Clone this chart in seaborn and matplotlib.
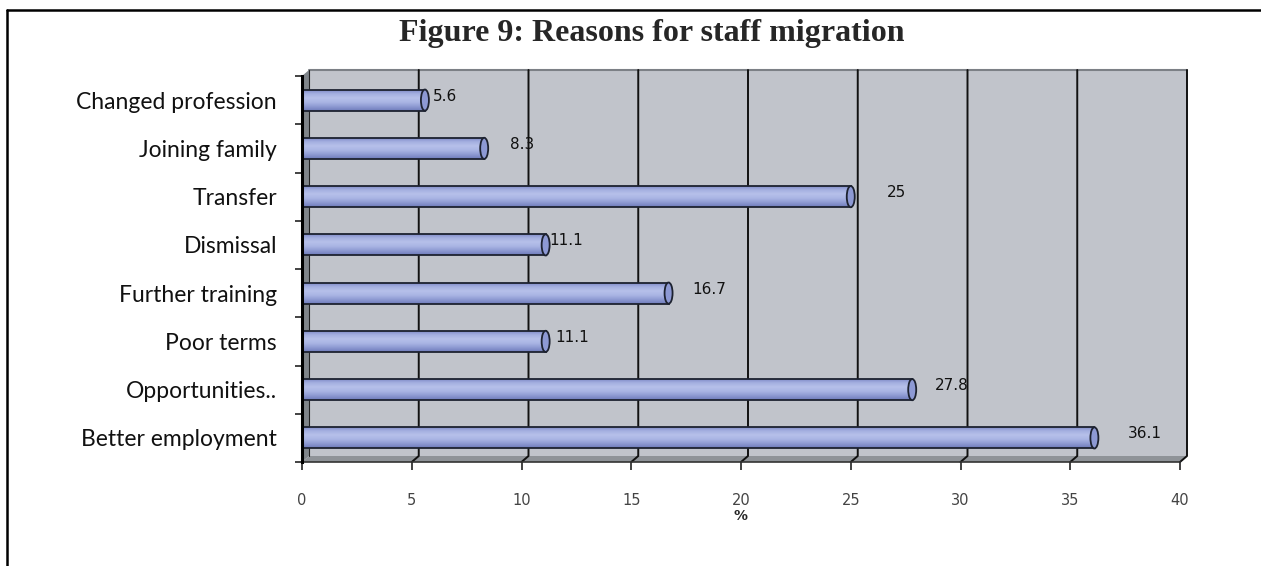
import numpy as np
import pandas as pd
import matplotlib
matplotlib.use("Agg")
import matplotlib.pyplot as plt
from matplotlib.colors import LinearSegmentedColormap
from matplotlib.patches import Polygon, Ellipse
from matplotlib.lines import Line2D
import seaborn as sns

# Reasons for staff migration, top to bottom, with percentage of respondents
reasons = ["Changed profession", "Joining family", "Transfer", "Dismissal",
           "Further training", "Poor terms", "Opportunities..", "Better employment"]
percent = [5.6, 8.3, 25, 11.1, 16.7, 11.1, 27.8, 36.1]
x_ticks = [0, 5, 10, 15, 20, 25, 30, 35, 40]

# Horizontal nudge (pixels) of each value label from its bar end
label_nudge = [8, 26, 36, 4, 24, 10, 23, 33]

sns.set_style("white")
plt.rcParams["font.family"] = ["DejaVu Sans"]

W, H = 1261, 566
fig = plt.figure(figsize=(W / 100, H / 100), dpi=100)
ax = fig.add_axes([302 / W, (H - 462) / H, 878 / W, 386 / H])
ax.set_facecolor("none")

df = pd.DataFrame({"reason": reasons, "percent": percent})
sns.barplot(data=df, x="percent", y="reason", orient="h", color="#9AA6DB",
            width=0.44, edgecolor="#1d2230", linewidth=1.3, ax=ax, zorder=4)

ax.set_xlim(x_ticks[0], x_ticks[-1])
ax.set_ylim(len(reasons) - 0.5, -0.5)

# 3-D style chart box: back wall, left side wall and floor
depth_px = (7, 6)
ddx = depth_px[0] / ax.bbox.width
ddy = depth_px[1] / ax.bbox.height
wall = "#C1C4CB"
side = "#8F9398"
ax.add_patch(Polygon([(ddx, ddy), (1 + ddx, ddy), (1 + ddx, 1 + ddy), (ddx, 1 + ddy)],
                     closed=True, transform=ax.transAxes, facecolor=wall,
                     edgecolor="none", zorder=0, clip_on=False))
ax.add_patch(Polygon([(0, 0), (1, 0), (1 + ddx, ddy), (ddx, ddy)], closed=True,
                     transform=ax.transAxes, facecolor=side, edgecolor="none",
                     zorder=1, clip_on=False))
ax.add_patch(Polygon([(0, 0), (ddx, ddy), (ddx, 1 + ddy), (0, 1)], closed=True,
                     transform=ax.transAxes, facecolor="#80858A", edgecolor="none",
                     zorder=1, clip_on=False))
ax.add_line(Line2D([ddx, 1 + ddx], [1 + ddy, 1 + ddy], transform=ax.transAxes,
                   color="#7C8086", lw=1.5, zorder=1, clip_on=False))

# vertical grid lines on the back wall, bending onto the floor
to_axes = ax.transAxes.inverted()
for v in x_ticks[1:]:
    xa = to_axes.transform(ax.transData.transform((v, 0)))[0]
    ax.add_line(Line2D([xa, xa + ddx, xa + ddx], [0, ddy, 1 + ddy],
                       transform=ax.transAxes, color="#111111", lw=1.4,
                       zorder=2, clip_on=False))
ax.add_line(Line2D([ddx, ddx], [ddy, 1 + ddy], transform=ax.transAxes,
                   color="#222222", lw=0.8, zorder=2, clip_on=False))

# cylinder shading for the bars
shade = LinearSegmentedColormap.from_list(
    "cyl", ["#7683C2", "#A3AEDF", "#B6C0EA", "#AAB5E4", "#8E9AD2", "#6E7BBB"])
grad = np.linspace(0, 1, 64).reshape(-1, 1)
cap_w = 8 / ax.bbox.width * (x_ticks[-1] - x_ticks[0])
for p in list(ax.containers[0]):
    x0, y0, w, h = p.get_x(), p.get_y(), p.get_width(), p.get_height()
    im = ax.imshow(grad, extent=[x0, x0 + w, y0 + h, y0], origin="upper",
                   aspect="auto", cmap=shade, zorder=3, interpolation="bilinear")
    im.set_clip_path(p)
    p.set_facecolor("none")
    ax.add_patch(Ellipse((x0 + w, y0 + h / 2), cap_w, h, facecolor="#8D99D4",
                         edgecolor="#1d2230", lw=1.3, zorder=5))

ax.set_xlim(x_ticks[0], x_ticks[-1])
ax.set_ylim(len(reasons) - 0.5, -0.5)
ax.set_aspect("auto")

# value labels
for i, (v, nd) in enumerate(zip(percent, label_nudge)):
    ax.annotate(f"{v:g}", xy=(v, i), xytext=(nd, 4), textcoords="offset pixels",
                ha="left", va="center", fontsize=11, color="#111111", zorder=6)

# axes, ticks and labels
for s in ["top", "right"]:
    ax.spines[s].set_visible(False)
ax.spines["left"].set_color("#000000")
ax.spines["left"].set_linewidth(2.2)
ax.spines["left"].set_zorder(6)
ax.spines["bottom"].set_color("#333333")
ax.spines["bottom"].set_linewidth(1.2)

ax.set_xticks(x_ticks)
ax.set_xticklabels([str(t) for t in x_ticks], fontsize=10.5, color="#444444")
ax.tick_params(axis="x", direction="out", length=6, width=1.2, color="#222222",
               pad=16, bottom=True)
ax.set_yticks(range(len(reasons)))
ax.set_yticklabels(reasons, fontsize=16.5, family=["Lato", "DejaVu Sans"],
                   color="#111111")
ax.tick_params(axis="y", length=0, pad=18, left=True)
ax.set_yticks(np.arange(-0.5, len(reasons), 1.0), minor=True)
ax.tick_params(axis="y", which="minor", direction="out", length=5, width=1.2,
               color="#222222", left=True)
ax.set_xlabel("%", fontsize=10, fontweight="bold", labelpad=1)
ax.set_ylabel("")

fig.text(652 / W, 1 - 34 / H, "Figure 9: Reasons for staff migration",
         ha="center", va="center", fontsize=23, fontweight="bold",
         family=["Liberation Serif", "DejaVu Serif"])

# frame lines along the top and left of the figure
fig.add_artist(Line2D([7 / W, 1.0], [1 - 10 / H, 1 - 10 / H],
                      transform=fig.transFigure, color="black", lw=1.8))
fig.add_artist(Line2D([7 / W, 7 / W], [0, 1 - 10 / H],
                      transform=fig.transFigure, color="black", lw=1.8))

fig.savefig("out.png", dpi=100, facecolor="white")
